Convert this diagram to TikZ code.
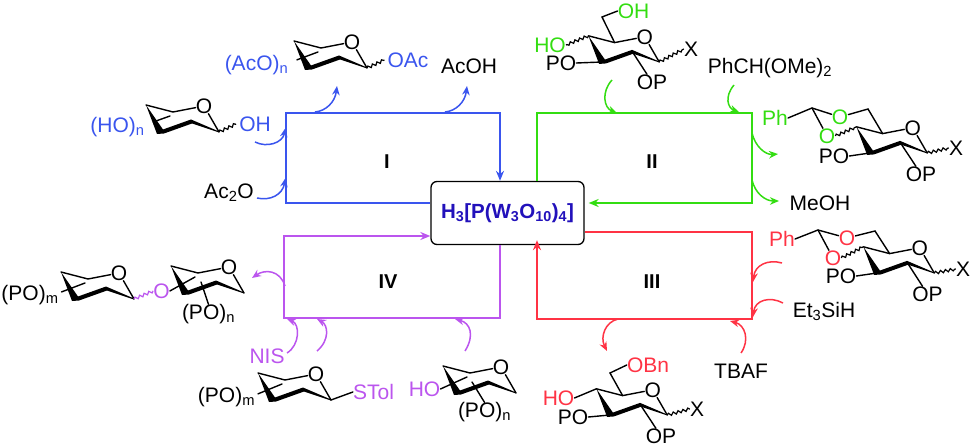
\documentclass[tikz,border=0pt]{standalone}
\usepackage{fontspec}
\setmainfont{Liberation Sans}
\usetikzlibrary{arrows.meta, positioning, decorations.pathmorphing}

\definecolor{cycI}{HTML}{3A55EE}
\definecolor{cycII}{HTML}{33DD11}
\definecolor{cycIII}{HTML}{FF3344}
\definecolor{cycIV}{HTML}{BB55EE}
\definecolor{catblue}{HTML}{2211BB}

\tikzset{
    txt/.style={inner sep=0pt, text height=15pt, text depth=0pt, font=\fontsize{21}{23}\selectfont},
    bond/.style={line width=1.4pt, line cap=round},
    wavy/.style={line width=1.2pt, decorate, decoration={snake, amplitude=1.4pt, segment length=5pt}},
    cycle line/.style={line width=1.6pt},
    curved/.style={line width=1.5pt, -{Stealth[length=9pt, width=7.5pt]}},
    romlab/.style={inner sep=0pt, font=\fontsize{20}{22}\selectfont\bfseries},
    pics/ring/.style={code={
        \fill (-14,-27) -- (-3,2) -- (4,1.5) -- (32,-8.5) -- (59,0.5) -- (59,-0.5) -- (31,-12.5) -- (3,-2.5) -- cycle;
        \node[txt] (-O) at (44,-26) {O};
        \coordinate (-a) at (-14,-27);
        \coordinate (-b) at (13,-20);
        \coordinate (-c) at (59,0);
        \coordinate (-d) at (31,-11);
        \coordinate (-e) at (0,0);
        \coordinate (-s) at (10,-16);
        \draw[bond] (-a) -- (-b) -- (-O);
        \draw[bond] (-O) -- (-c);
    }}
}

\begin{document}
\begin{tikzpicture}[x=1pt, y=-1pt]
    \useasboundingbox (0,0) rectangle (973,446);

    % --- CATALYST AND CYCLES ---
    \node[draw, line width=1.3pt, rounded corners=6pt, minimum width=153pt, minimum height=63pt, inner sep=0pt,
        text=catblue, font=\fontsize{20.5}{22}\selectfont\bfseries] (cat) at (507.5,213) {H\textsubscript{3}[P(W\textsubscript{3}O\textsubscript{10})\textsubscript{4}]};

    \coordinate (Ibl) at (286,203);
    \coordinate (Itl) at (286,113);
    \coordinate (Itr) at (500,113);
    \coordinate (IItl) at (537,113);
    \coordinate (IItr) at (752,113);
    \coordinate (IIbr) at (752,203);
    \coordinate (IIItr) at (752,232);
    \coordinate (IIIbr) at (752,319);
    \coordinate (IIIbl) at (537,319);
    \coordinate (IVbr) at (500,318);
    \coordinate (IVbl) at (284,318);
    \coordinate (IVtl) at (284,236);

    \draw[cycI, cycle line, -{Stealth[length=10pt, width=8pt]}] (Ibl -| cat.west) -- (Ibl) -- (Itl) -- (Itr) -- (Itr |- cat.north);
    \draw[cycII, cycle line, -{Stealth[length=10pt, width=8pt]}] (IItl |- cat.north) -- (IItl) -- (IItr) -- (IIbr) -- ([xshift=4pt]IIbr -| cat.east);
    \draw[cycIII, cycle line, -{Stealth[length=10pt, width=8pt]}] (IIItr -| cat.east) -- (IIItr) -- (IIIbr) -- (IIIbl) -- ([yshift=5pt]IIIbl |- cat.south);
    \draw[cycIV, cycle line, -{Stealth[length=10pt, width=8pt]}] (IVbr |- cat.south) -- (IVbr) -- (IVbl) -- (IVtl) -- (IVtl -| cat.west);

    \node[romlab] (labI) at (387,162) {I};
    \node[romlab] (labII) at (652,162) {II};
    \node[romlab] (labIII) at (652,282) {III};
    \node[romlab] (labIV) at (388,282) {IV};

    % --- CYCLE I ---
    \pic (r1) at (160,132) {ring};
    \node[txt, text=cycI] (hon) at (117.5,125) {(HO)\textsubscript{n}};
    \node[txt, text=cycI] (oh1) at (255,124) {OH};
    \draw[bond] (hon.east) [shorten <=9pt] -- (r1-s);
    \draw[wavy] (r1-c) -- ([xshift=-3pt]oh1.west);

    \pic (r2) at (308,68) {ring};
    \node[txt, text=cycI] (acon) at (256.5,63) {(AcO)\textsubscript{n}};
    \node[txt, text=cycI] (oac) at (408,60) {OAc};
    \draw[bond] (acon.east) [shorten <=9pt] -- (r2-s);
    \draw[wavy] (r2-c) -- ([xshift=-3pt]oac.west);

    \node[txt] (acoh) at (469,66) {AcOH};
    \node[txt] (ac2o) at (229,191) {Ac\textsubscript{2}O};

    % --- CYCLE II ---
    \pic[scale=.97] (r3) at (602,62) {ring};
    \node[txt, text=cycII] (oh2) at (633.5,11) {OH};
    \node[txt, text=cycII] (ho2) at (550,45) {HO};
    \node[txt] (po3) at (561,63) {PO};
    \node[txt] (op3) at (652,82) {OP};
    \node[txt] (x3) at (691,49) {X};
    \coordinate (c6a) at (602,17);
    \draw[bond] (r3-b) -- (c6a) -- (oh2.west);
    \draw[wavy] (r3-a) -- (ho2.east);
    \draw[bond] (po3.east) -- (r3-e);
    \draw[bond] (r3-d) -- (op3);
    \draw[wavy] (r3-c) -- (x3.west);

    \node[txt] (phch) at (770,66) {PhCH(OMe)\textsubscript{2}};
    \node[txt] (meoh) at (820,203) {MeOH};

    \pic[scale=.97] (r4) at (870,153) {ring};
    \node[txt, text=cycII] (ph4) at (775,118) {Ph};
    \node[txt, text=cycII] (oa4) at (840,117) {O};
    \node[txt, text=cycII] (ob4) at (827,136) {O};
    \node[txt] (po4) at (834,156) {PO};
    \node[txt] (op4) at (921,174) {OP};
    \node[txt] (x4) at (956,148) {X};
    \coordinate (ac4) at (812,108);
    \coordinate (c64) at (868,109);
    \draw[bond] (r4-b) -- (c64) -- (oa4);
    \draw[bond] (ph4.east) -- (ac4) -- (oa4);
    \draw[bond] (ac4) -- (ob4);
    \draw[wavy] (ob4.east) -- (r4-a);
    \draw[bond] (po4.east) -- (r4-e);
    \draw[bond] (r4-d) -- (op4);
    \draw[wavy] (r4-c) -- (x4.west);

    % --- CYCLE III ---
    \pic[scale=.97] (r5) at (877,273) {ring};
    \node[txt, text=cycIII] (ph5) at (782,239) {Ph};
    \node[txt, text=cycIII] (oa5) at (847,238) {O};
    \node[txt, text=cycIII] (ob5) at (833,258) {O};
    \node[txt] (po5) at (841,276) {PO};
    \node[txt] (op5) at (927.5,294) {OP};
    \node[txt] (x5) at (963,269) {X};
    \coordinate (ac5) at (818,230);
    \coordinate (c65) at (875,231);
    \draw[bond] (r5-b) -- (c65) -- (oa5);
    \draw[bond] (ph5.east) -- (ac5) -- (oa5);
    \draw[bond] (ac5) -- (ob5);
    \draw[wavy] (ob5.east) -- (r5-a);
    \draw[bond] (po5.east) -- (r5-e);
    \draw[bond] (r5-d) -- (op5);
    \draw[wavy] (r5-c) -- (x5.west);

    \node[txt] (et3) at (824,310) {Et\textsubscript{3}SiH};
    \node[txt] (tbaf) at (741,371) {TBAF};

    \pic[scale=.97] (r6) at (610,415) {ring};
    \node[txt, text=cycIII] (obn) at (648,365) {OBn};
    \node[txt, text=cycIII] (ho6) at (558.5,398) {HO};
    \node[txt] (po6) at (573,417) {PO};
    \node[txt] (op6) at (661,436) {OP};
    \node[txt] (x6) at (697,409) {X};
    \coordinate (c66) at (610,373);
    \draw[bond] (r6-b) -- (c66) -- (obn.west);
    \draw[bond] (ho6.east) -- (r6-a);
    \draw[bond] (po6.east) -- (r6-e);
    \draw[bond] (r6-d) -- (op6);
    \draw[wavy] (r6-c) -- (x6.west);

    % --- CYCLE IV ---
    \pic (r7) at (75,299) {ring};
    \node[txt] (pom7) at (30,293) {(PO)\textsubscript{m}};
    \node[txt, text=cycIV] (o7) at (161.5,291) {O};
    \draw[bond] (pom7.east) [shorten <=3pt] -- (r7-s);
    \draw[wavy, cycIV] (r7-c) -- (o7.west);

    \pic (r8) at (185,293) {ring};
    \node[txt] (pon8) at (208.5,312) {(PO)\textsubscript{n}};
    \coordinate (s8) at (201,282);
    \draw[bond] (o7.east) -- (r8-s);
    \draw[bond] (s8) -- (pon8.north);

    \pic (r9) at (272,400) {ring};
    \node[txt] (pom9) at (226.5,395) {(PO)\textsubscript{m}};
    \node[txt, text=cycIV] (stol) at (373.5,392) {STol};
    \node[txt, text=cycIV] (nis) at (267,356) {NIS};
    \draw[bond] (pom9.east) [shorten <=3pt] -- (r9-s);
    \draw[bond] (r9-c) -- (stol.west);

    \pic (r10) at (457,393) {ring};
    \node[txt, text=cycIV] (ho10) at (424.5,389) {HO};
    \node[txt] (pon10) at (484.5,410) {(PO)\textsubscript{n}};
    \coordinate (s10) at (472,382);
    \draw[bond] (ho10.east) -- (r10-s);
    \draw[bond] (s10) -- (pon10.north);

    % --- CURVED ARROWS ---
    \coordinate (b1s) at (255,142); \coordinate (b1e) at (285.5,128);
    \coordinate (b2s) at (257,198); \coordinate (b2e) at (285.5,178);
    \coordinate (b3s) at (315,112); \coordinate (b3e) at (337,86);
    \coordinate (b4s) at (445,112); \coordinate (b4e) at (467,86);
    \draw[cycI, curved] (b1s) .. controls +(12,6) and +(-3,15) .. (b1e);
    \draw[cycI, curved] (b2s) .. controls +(13,3) and +(-3,17) .. (b2e);
    \draw[cycI, curved] (b3s) .. controls +(11,-1) and +(-2,16) .. (b3e);
    \draw[cycI, curved] (b4s) .. controls +(11,-1) and +(-2,16) .. (b4e);

    \coordinate (g1s) at (612,80); \coordinate (g1e) at (617,113);
    \coordinate (g2s) at (734,85); \coordinate (g2e) at (739,112);
    \coordinate (g3s) at (752,133); \coordinate (g3e) at (778,154);
    \coordinate (g4s) at (752,180); \coordinate (g4e) at (779,201);
    \draw[cycII, curved] (g1s) .. controls +(-11,12) and +(-13,-5) .. (g1e);
    \draw[cycII, curved] (g2s) .. controls +(-10,12) and +(-11,-4) .. (g2e);
    \draw[cycII, curved] (g3s) .. controls +(3,13) and +(-13,1) .. (g3e);
    \draw[cycII, curved] (g4s) .. controls +(3,13) and +(-14,0) .. (g4e);

    \coordinate (r1s) at (782,263); \coordinate (r1e) at (753,282);
    \coordinate (r2s) at (783,303); \coordinate (r2e) at (753,317);
    \coordinate (r3s) at (741,353); \coordinate (r3e) at (730,321);
    \coordinate (r4s) at (618,319); \coordinate (r4e) at (607,351);
    \draw[cycIII, curved] (r1s) .. controls +(-14,-4) and +(2,-17) .. (r1e);
    \draw[cycIII, curved] (r2s) .. controls +(-13,-7) and +(2,-17) .. (r2e);
    \draw[cycIII, curved] (r3s) .. controls +(9,-13) and +(15,4) .. (r3e);
    \draw[cycIII, curved] (r4s) .. controls +(-13,3) and +(-7,-14) .. (r4e);

    \coordinate (p1s) at (285,286); \coordinate (p1e) at (252,278);
    \coordinate (p2s) at (287,353); \coordinate (p2e) at (287,319);
    \coordinate (p3s) at (317,351); \coordinate (p3e) at (317,319);
    \coordinate (p4s) at (465,351); \coordinate (p4e) at (455,319);
    \draw[cycIV, curved] (p1s) .. controls +(-5,-16) and +(13,-9) .. (p1e);
    \draw[cycIV, curved] (p2s) .. controls +(13,-8) and +(13,5) .. (p2e);
    \draw[cycIV, curved] (p3s) .. controls +(13,-11) and +(11,6) .. (p3e);
    \draw[cycIV, curved] (p4s) .. controls +(10,-16) and +(15,4) .. (p4e);

\end{tikzpicture}
\end{document}
